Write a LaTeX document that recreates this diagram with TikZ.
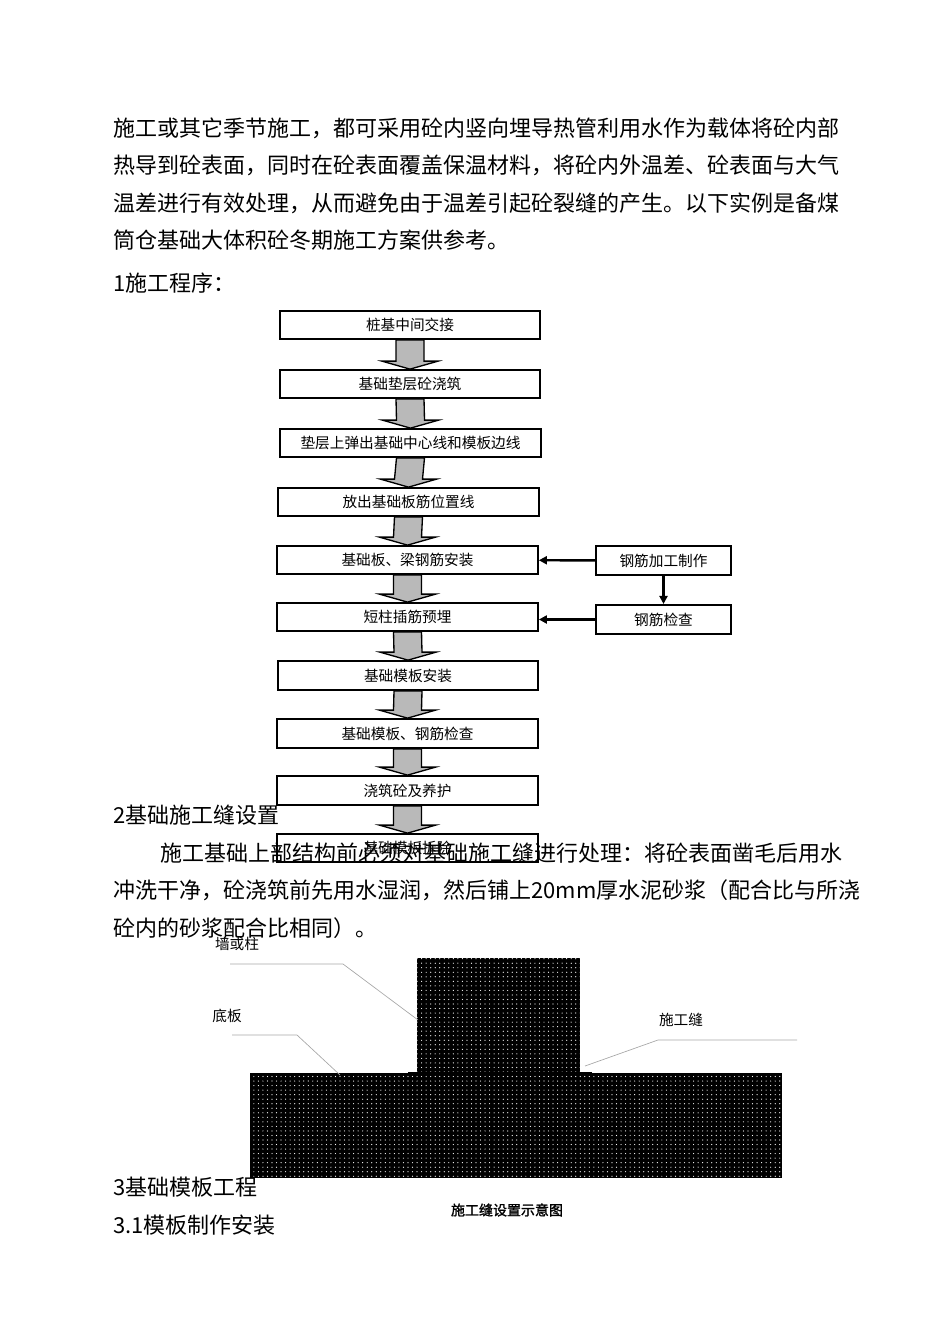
\documentclass[tikz,border=0pt]{standalone}
\usepackage{fontspec}
\setmainfont{Liberation Serif}
\newfontfamily\cjk{Noto Sans CJK SC}
\newfontfamily\cjkb{Noto Sans CJK SC}[FakeBold=1.5]
\usetikzlibrary{patterns.meta,arrows.meta}
\begin{document}
\begin{tikzpicture}[x=0.75pt,y=-0.75pt,
  body/.style={anchor=west,inner sep=0pt,font=\cjk\fontsize{16.5pt}{18pt}\selectfont},
  fbox/.style={draw,line width=1.3pt,fill=white,inner sep=0pt,font=\cjk\fontsize{11pt}{12pt}\selectfont},
  lbl/.style={font=\cjk\fontsize{11pt}{12pt}\selectfont,inner sep=0pt},
  lead/.style={draw=gray!70,line width=0.5pt},
  dotty/.style={pattern={Dots[distance=3.4pt,radius=0.45pt]},pattern color=white}]
\useasboundingbox (0,0) rectangle (950,1344);
% body text
\node[body] (t1) at (113,128) {施工或其它季节施工，都可采用砼内竖向埋导热管利用水作为载体将砼内部};
\node[body] (t2) at (113,165) {热导到砼表面，同时在砼表面覆盖保温材料，将砼内外温差、砼表面与大气};
\node[body] (t3) at (113,203) {温差进行有效处理，从而避免由于温差引起砼裂缝的产生。以下实例是备煤};
\node[body] (t4) at (113,240) {筒仓基础大体积砼冬期施工方案供参考。};
\node[body] (t5) at (113,283) {1施工程序：};
% flow boxes
\foreach \n/\xa/\xb/\ya/\yb/\t in {
 b1/280/540/311/339/桩基中间交接,
 b2/280/540/370/398/基础垫层砼浇筑,
 b3/280/541/429/457/垫层上弹出基础中心线和模板边线,
 b4/278/539/488/516/放出基础板筋位置线,
 b5/277/538/546/574/基础板、梁钢筋安装,
 b6/277/538/603/631/短柱插筋预埋,
 b7/278/538/661/690/基础模板安装,
 b8/277/538/719/748/基础模板、钢筋检查,
 b9/277/538/776/805/浇筑砼及养护,
 b10/277/538/834/862/基础模板拆除}
 {\node[fbox,minimum width={(\xb-\xa)*0.75pt},minimum height={(\yb-\ya)*0.75pt}] (\n) at ({(\xa+\xb)/2},{(\ya+\yb)/2}) {\t};}
% block arrows
\foreach \a/\b in {b1/b2,b2/b3,b3/b4,b4/b5,b5/b6,b6/b7,b7/b8,b8/b9,b9/b10}{
 \path (\a.south) coordinate (s) (\b.north) coordinate (e);
 \draw[fill=gray!55,line width=1pt] ([xshift=-10.5pt]s) -- ([xshift=-10.5pt,yshift=6pt]e) -- ([xshift=-21pt,yshift=6pt]e) -- (e) -- ([xshift=21pt,yshift=6pt]e) -- ([xshift=10.5pt,yshift=6pt]e) -- ([xshift=10.5pt]s) -- cycle;
}
\node[fbox,minimum width=101pt,minimum height=22pt] (r1) at (663.5,560.5) {钢筋加工制作};
\node[fbox,minimum width=101pt,minimum height=22pt] (r2) at (663.5,619.5) {钢筋检查};
\draw[line width=1.8pt,-{Triangle[length=6pt,width=6pt]}] (r1) -- (b5);
\draw[line width=1.8pt,-{Triangle[length=6pt,width=6pt]}] (r2.west) -- (r2.west -| b6.east);
\draw[line width=1.8pt,-{Triangle[length=6pt,width=6pt]}] (r1) -- (r2);
% section 2
\node[body] (s2) at (113,815) {2基础施工缝设置};
\node[body] (p1) at (160,853) {施工基础上部结构前必须对基础施工缝进行处理：将砼表面凿毛后用水};
\node[body] (p2) at (113,890) {冲洗干净，砼浇筑前先用水湿润，然后铺上20mm厚水泥砂浆（配合比与所浇};
\node[body] (p3) at (113,928) {砼内的砂浆配合比相同）。};
% concrete sketch
\fill[black] (417,958) rectangle (580,1073);
\fill[dotty] (417,958) rectangle (580,1073);
\fill[black] (250,1073) rectangle (782,1178);
\fill[dotty] (250,1073) rectangle (782,1178);
\draw[line width=1.2pt] (408,1073) -- (592,1073);
\node[lbl] (l1) at (237,944) {墙或柱};
\node[lbl] (l2) at (227,1016) {底板};
\node[lbl] (l3) at (681,1020) {施工缝};
\draw[lead] (230,964) -- (343,964) -- (418,1020);
\draw[lead] (232,1035) -- (297,1035) -- (340,1075);
\draw[lead] (797,1040) -- (658,1040) -- (585,1066);
\node[inner sep=0pt,font=\cjkb\fontsize{10.5pt}{12pt}\selectfont] (cap) at (507,1210) {施工缝设置示意图};
\node[body] (s3) at (113,1187) {3基础模板工程};
\node[body] (s31) at (113,1225) {3.1模板制作安装};
\end{tikzpicture}
\end{document}
